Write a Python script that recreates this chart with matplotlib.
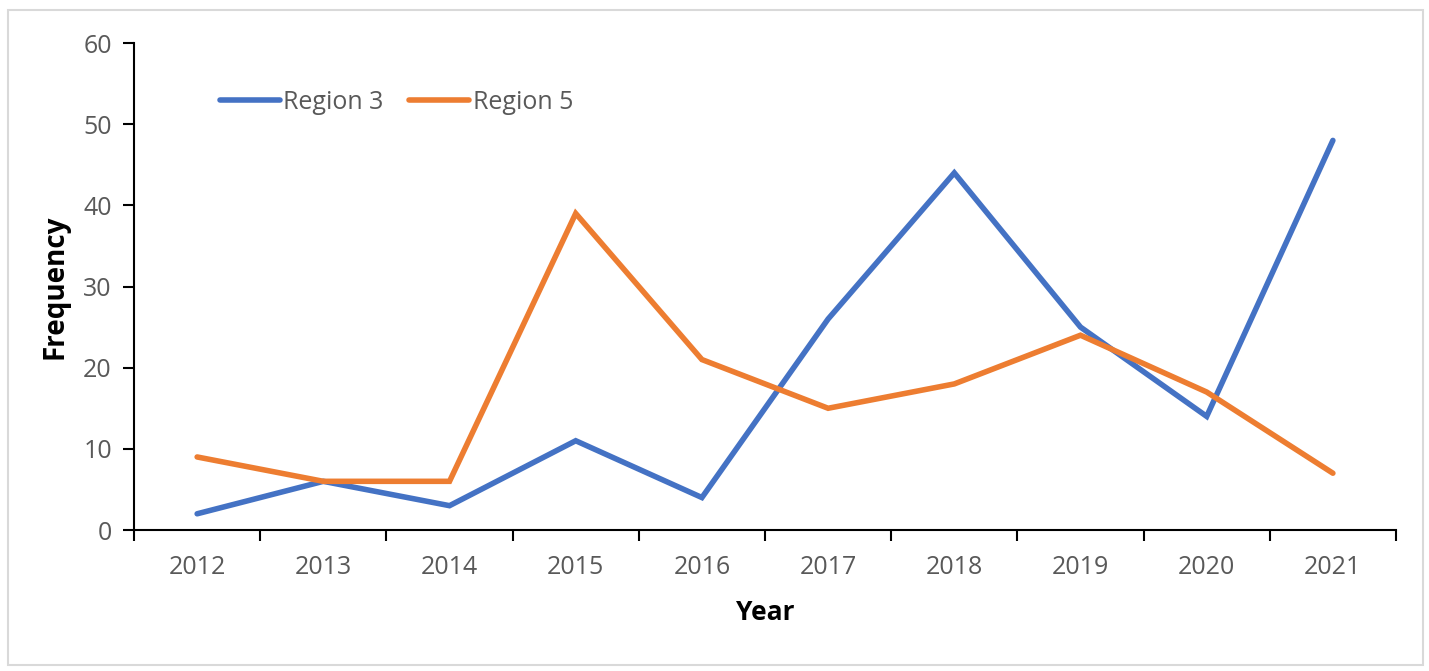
import matplotlib.pyplot as plt
from matplotlib.patches import Rectangle
import numpy as np

plt.rcParams['font.family'] = ['Open Sans', 'DejaVu Sans']

years = ['2012', '2013', '2014', '2015', '2016', '2017', '2018', '2019', '2020', '2021']
region_3 = [2, 6, 3, 11, 4, 26, 44, 25, 14, 48]
region_5 = [9, 6, 6, 39, 21, 15, 18, 24, 17, 7]

fig = plt.figure(figsize=(14.29, 6.71), dpi=100)
ax = fig.add_axes([0.0938, 0.2101, 0.8831, 0.7258])

# light frame around the whole chart area
fig.patches.append(Rectangle((8 / 1429, 6 / 671), 1415 / 1429, 655 / 671, transform=fig.transFigure,
                             fill=False, edgecolor='#D9D9D9', linewidth=1.5))

x = np.arange(len(years))
ax.plot(x, region_3, color='#4472C4', linewidth=4, solid_capstyle='round', solid_joinstyle='miter',
        label='Region 3')
ax.plot(x, region_5, color='#ED7D31', linewidth=4, solid_capstyle='round', solid_joinstyle='miter',
        label='Region 5')

ax.set_xlim(-0.5, len(years) - 0.5)
ax.set_ylim(0, 60)
ax.set_yticks(np.arange(0, 61, 10))

# category axis: tick marks between categories, labels at centres
ax.set_xticks(np.arange(-0.5, len(years), 1.0))
ax.set_xticklabels([])
ax.set_xticks(x, minor=True)
ax.set_xticklabels(years, minor=True)
ax.tick_params(axis='x', which='major', direction='out', length=8, width=1.5, color='black')
ax.tick_params(axis='x', which='minor', length=0, pad=18, labelsize=18, labelcolor='#595959')
ax.tick_params(axis='y', direction='out', length=8, width=1.5, color='black', pad=8,
               labelsize=18, labelcolor='#595959')

for side in ['top', 'right']:
    ax.spines[side].set_visible(False)
for side in ['left', 'bottom']:
    ax.spines[side].set_linewidth(1.5)
    ax.spines[side].set_color('black')

ax.set_xlabel('Year', fontsize=19, fontweight='bold', labelpad=14)
ax.set_ylabel('Frequency', fontsize=20, fontweight='bold', labelpad=10)

leg = ax.legend(loc='upper left', bbox_to_anchor=(0.05, 0.95), ncol=2, frameon=False, fontsize=18,
                handlelength=2.4, handletextpad=0.15, columnspacing=1.0, labelcolor='#595959')

fig.savefig('out.png', dpi=100)
